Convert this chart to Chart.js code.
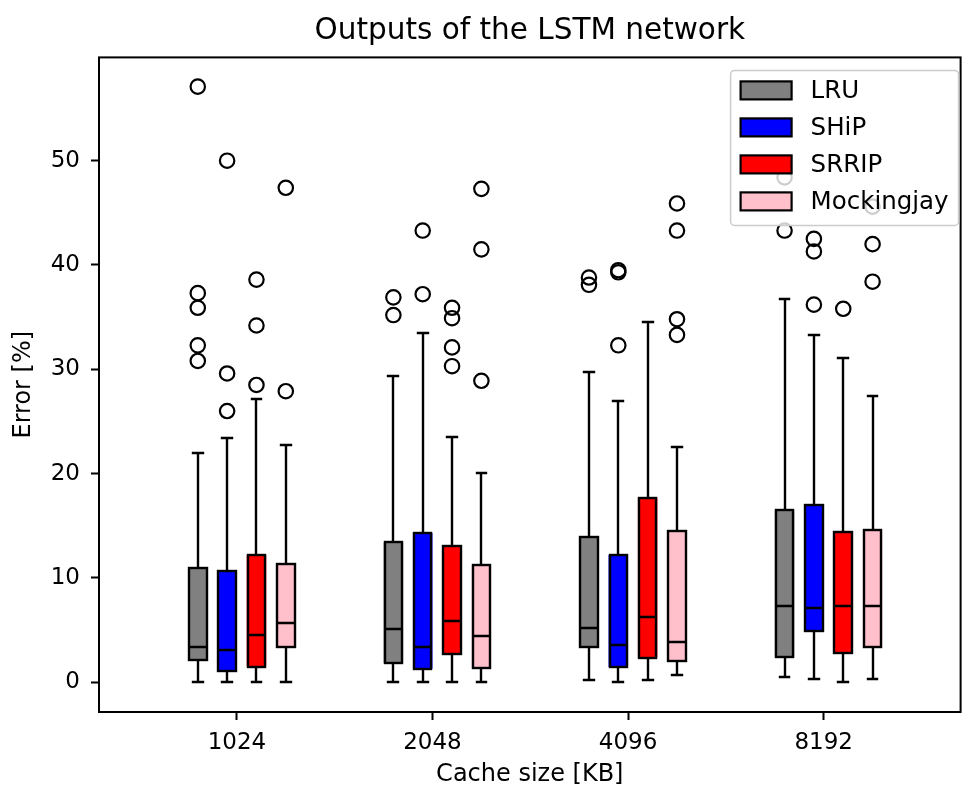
<!DOCTYPE html>
<html>
<head>
<meta charset="utf-8">
<title>Outputs of the LSTM network</title>
<script src="https://cdn.jsdelivr.net/npm/chart.js@4.4.1/dist/chart.umd.min.js"></script>
<style>
  html, body { margin: 0; padding: 0; background: #fff; }
</style>
</head>
<body>
<canvas id="chart" width="970" height="787"></canvas>
<script>
// --- data ---
var categories = ['1024', '2048', '4096', '8192'];
var policies = ['LRU', 'SHiP', 'SRRIP', 'Mockingjay'];
var yTicks = [0, 10, 20, 30, 40, 50];

var lruLow   = [0, 0, 0.2, 0.5];
var lruQ1    = [2.15, 1.85, 3.4, 2.4];
var lruMed   = [3.35, 5.1, 5.2, 7.3];
var lruQ3    = [11.0, 13.4, 13.9, 16.5];
var lruHigh  = [22.0, 29.4, 29.7, 36.7];
var lruOut   = [[57.1, 37.3, 35.9, 32.3, 30.8], [36.9, 35.2], [38.8, 38.1], [48.4, 43.3]];

var shipLow  = [0, 0, 0, 0.3];
var shipQ1   = [1.1, 1.3, 1.47, 4.9];
var shipMed  = [3.05, 3.35, 3.55, 7.1];
var shipQ3   = [10.7, 14.3, 12.2, 17.0];
var shipHigh = [23.4, 33.5, 27.0, 33.3];
var shipOut  = [[50.0, 29.6, 26.0], [43.3, 37.2], [39.5, 39.3, 32.3], [42.5, 41.3, 36.2]];

var srripLow  = [0, 0, 0.2, 0];
var srripQ1   = [1.5, 2.7, 2.37, 2.85];
var srripMed  = [4.5, 5.9, 6.26, 7.3];
var srripQ3   = [12.2, 13.1, 17.7, 14.4];
var srripHigh = [27.2, 23.5, 34.5, 31.1];
var srripOut  = [[38.6, 34.2, 28.5], [35.9, 34.9, 32.1, 30.3], [], [35.8]];

var mockLow  = [0, 0, 0.67, 0.3];
var mockQ1   = [3.4, 1.35, 2.05, 3.35];
var mockMed  = [5.7, 4.4, 3.87, 7.3];
var mockQ3   = [11.3, 11.2, 14.5, 14.55];
var mockHigh = [22.7, 20.1, 22.6, 27.4];
var mockOut  = [[47.4, 27.9], [47.3, 41.5, 28.9], [45.9, 43.3, 34.8, 33.3], [45.6, 42.0, 38.4]];

var stats = [
  { low: lruLow, q1: lruQ1, med: lruMed, q3: lruQ3, high: lruHigh, out: lruOut },
  { low: shipLow, q1: shipQ1, med: shipMed, q3: shipQ3, high: shipHigh, out: shipOut },
  { low: srripLow, q1: srripQ1, med: srripMed, q3: srripQ3, high: srripHigh, out: srripOut },
  { low: mockLow, q1: mockQ1, med: mockMed, q3: mockQ3, high: mockHigh, out: mockOut }
];

// --- look ---
var COLORS = ['#808080', '#0000ff', '#ff0000', '#ffc0cb'];
var OFFSETS = [-0.2, -0.05, 0.1, 0.25];   // box position inside each cache-size group
var BOX_W = 0.1, CAP_W = 0.05, LW = 2.4;
var FONT = "'DejaVu Sans', sans-serif";

Chart.defaults.font.family = FONT;
Chart.defaults.color = '#000';

// box body = floating bar from q1 to q3 (outline is stroked by the plugin below)
function boxDataset(p) {
  var s = stats[p];
  return {
    type: 'bar', label: policies[p],
    data: categories.map(function (c, i) { return { x: i + OFFSETS[p], y: [s.q1[i], s.q3[i]] }; }),
    backgroundColor: COLORS[p], borderWidth: 0, inflateAmount: 0,
    grouped: false, categoryPercentage: 1, barPercentage: 2 / 3
  };
}

function outlierDataset(p) {
  var pts = [];
  stats[p].out.forEach(function (vals, i) {
    vals.forEach(function (v) { pts.push({ x: i + OFFSETS[p], y: v }); });
  });
  return {
    type: 'scatter', label: policies[p] + ' outliers', data: pts,
    pointRadius: 7.2, pointBorderWidth: 2.2, pointBorderColor: '#000',
    pointBackgroundColor: 'rgba(0,0,0,0)'
  };
}

// box outlines, whiskers, caps and medians, placed through the chart scales
var whiskers = {
  id: 'whiskers',
  afterDatasetsDraw: function (chart) {
    var xs = chart.scales.x, ys = chart.scales.y, ctx = chart.ctx;
    function X(v) { return Math.round(xs.getPixelForValue(v)); }
    function Y(v) { return Math.round(ys.getPixelForValue(v)); }
    ctx.save();
    ctx.strokeStyle = '#000';
    ctx.lineWidth = LW;
    stats.forEach(function (s, p) {
      categories.forEach(function (c, i) {
        var x = i + OFFSETS[p];
        var px = X(x);
        var cl = X(x - CAP_W / 2), cr = X(x + CAP_W / 2);
        var bl = X(x - BOX_W / 2) + 1, br = X(x + BOX_W / 2) - 1;
        ctx.lineCap = 'butt';
        ctx.lineJoin = 'miter';
        ctx.strokeRect(bl, Y(s.q3[i]), br - bl, Y(s.q1[i]) - Y(s.q3[i]));
        ctx.beginPath();
        ctx.moveTo(px, Y(s.q1[i])); ctx.lineTo(px, Y(s.low[i]));
        ctx.moveTo(px, Y(s.q3[i])); ctx.lineTo(px, Y(s.high[i]));
        ctx.moveTo(bl, Y(s.med[i])); ctx.lineTo(br, Y(s.med[i]));
        ctx.stroke();
        ctx.lineCap = 'square';
        ctx.beginPath();
        ctx.moveTo(cl, Y(s.low[i])); ctx.lineTo(cr, Y(s.low[i]));
        ctx.moveTo(cl, Y(s.high[i])); ctx.lineTo(cr, Y(s.high[i]));
        ctx.stroke();
      });
    });
    ctx.restore();
  }
};

// axes frame + matplotlib-style legend box in the upper right
var frameAndLegend = {
  id: 'frameAndLegend',
  afterDraw: function (chart) {
    var a = chart.chartArea, ctx = chart.ctx;
    ctx.save();
    ctx.strokeStyle = '#000';
    ctx.lineWidth = 2;
    ctx.strokeRect(a.left, a.top, a.right - a.left, a.bottom - a.top);

    var w = 228, h = 155, right = a.right - 2, top = a.top + 13, left = right - w;
    ctx.beginPath();
    ctx.roundRect(left, top, w, h, 4);
    ctx.fillStyle = 'rgba(255,255,255,0.8)';
    ctx.fill();
    ctx.strokeStyle = '#cccccc';
    ctx.lineWidth = 1.5;
    ctx.stroke();

    ctx.font = '24.5px ' + FONT;
    ctx.textBaseline = 'middle';
    ctx.textAlign = 'left';
    policies.forEach(function (name, p) {
      var cy = top + 20 + p * 37;
      ctx.fillStyle = COLORS[p];
      ctx.fillRect(left + 10, cy - 9, 51, 18);
      ctx.strokeStyle = '#000';
      ctx.lineWidth = 2.2;
      ctx.strokeRect(left + 10, cy - 9, 51, 18);
      ctx.fillStyle = '#000';
      ctx.fillText(name, left + 80, cy + 1);
    });
    ctx.restore();
  }
};

var datasets = [];
policies.forEach(function (n, p) { datasets.push(boxDataset(p)); });
policies.forEach(function (n, p) { datasets.push(outlierDataset(p)); });

new Chart(document.getElementById('chart'), {
  type: 'bar',
  data: { datasets: datasets },
  plugins: [whiskers, frameAndLegend],
  options: {
    responsive: false, devicePixelRatio: 1, animation: false, events: [],
    layout: { padding: { right: 2 } },
    plugins: {
      legend: { display: false },
      tooltip: { enabled: false },
      title: {
        display: true, fullSize: false, text: 'Outputs of the LSTM network', color: '#000',
        font: { size: 29.5, weight: 'normal', lineHeight: 1.2 },
        padding: { top: 14, bottom: 8 }
      }
    },
    scales: {
      x: {
        type: 'linear', min: -0.705, max: 3.7, offset: false,
        afterBuildTicks: function (s) { s.ticks = categories.map(function (c, i) { return { value: i }; }); },
        afterFit: function (s) { s.height = 75; },
        ticks: { padding: 9, font: { size: 23 }, callback: function (v, i) { return categories[i]; } },
        grid: { display: true, drawOnChartArea: false, offset: false, tickLength: 8, tickColor: '#000', tickWidth: 2 },
        border: { display: false },
        title: { display: true, text: 'Cache size [KB]', font: { size: 24, lineHeight: 1 }, padding: { top: 0, bottom: 0 } }
      },
      y: {
        type: 'linear', min: -2.85, max: 59.9,
        afterBuildTicks: function (s) { s.ticks = yTicks.map(function (v) { return { value: v }; }); },
        afterFit: function (s) { s.width = 99; },
        ticks: { padding: 11, font: { size: 23 }, callback: function (v) { return String(v); } },
        grid: { display: true, drawOnChartArea: false, tickLength: 8, tickColor: '#000', tickWidth: 2 },
        border: { display: false },
        title: { display: true, text: 'Error [%]', font: { size: 24, lineHeight: 1 }, padding: { top: 12, bottom: 0 } }
      }
    }
  }
});
</script>
</body>
</html>
